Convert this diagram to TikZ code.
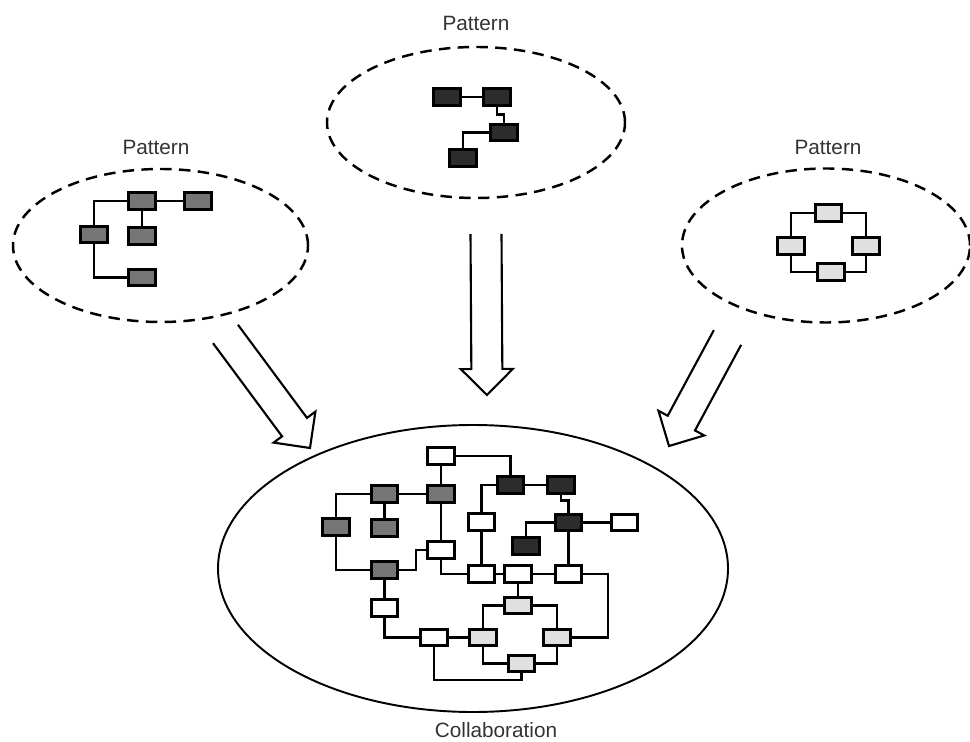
\documentclass[tikz,border=0pt]{standalone}
\usepackage{fontspec}
\setmainfont{Liberation Sans}
\usepackage{tikz}
\usetikzlibrary{shapes.geometric, calc}
\definecolor{unitmid}{HTML}{767676}
\definecolor{unitdark}{HTML}{2C2C2C}
\definecolor{unitlight}{HTML}{E0E0E0}
\definecolor{labelgray}{HTML}{333333}
\tikzset{
  wire/.style={line width=1.4pt},
  unit/.style={rectangle, draw, line width=1.5pt, minimum width=5.3mm,
    minimum height=3.3mm, inner sep=0pt},
  unitw/.style={unit, fill=white},
  unitm/.style={unit, fill=unitmid},
  unitd/.style={unit, fill=unitdark},
  unitl/.style={unit, fill=unitlight},
  patt/.style={% dashed outline round one pattern
    ellipse, draw, line width=1.4pt, dash pattern=on 6.5pt off 4.2pt, inner sep=0pt},
  collab/.style={ellipse, draw, line width=1.1pt, inner sep=0pt},
  hollow/.style={line width=1.2pt, line join=miter},
  lbl/.style={text=labelgray, font=\fontsize{11.8}{14}\selectfont, inner sep=0pt},
}
% open-tailed block arrow from #1 to #2
\newcommand\hollowarrow[2]{%
  \coordinate (hb) at ($(#2)!0.52cm!(#1)$);
  \draw[hollow] ($(#1)!0.31cm!90:(#2)$) -- ($(hb)!0.31cm!90:(#2)$)
    -- ($(hb)!0.52cm!90:(#2)$) -- (#2) -- ($(hb)!0.52cm!-90:(#2)$)
    -- ($(hb)!0.31cm!-90:(#2)$) -- ($(#1)!0.31cm!-90:(#2)$);
}

\begin{document}
\begin{tikzpicture}[x=0.2mm, y=-0.2mm]
  \useasboundingbox (0,0) rectangle (970,742);

  % ----- outlines and labels -------------------------------------------------
  \node[patt, minimum width=5.9cm, minimum height=3.06cm]  (lpat) at (160.5,245.5) {};
  \node[patt, minimum width=5.96cm, minimum height=3.02cm] (mpat) at (476,122.5) {};
  \node[patt, minimum width=5.76cm, minimum height=3.08cm] (rpat) at (826,245.5) {};
  \node[collab, minimum width=10.2cm, minimum height=5.74cm] (coll) at (473,568.5) {};

  \node[lbl] (llab) at (156,147) {Pattern};
  \node[lbl] (mlab) at (476,23)  {Pattern};
  \node[lbl] (rlab) at (828,147) {Pattern};
  \node[lbl] (clab) at (496,730) {Collaboration};

  % ----- left pattern --------------------------------------------------------
  \node[unitm] (a1) at (142,201)   {};
  \node[unitm] (a2) at (198,201)   {};
  \node[unitm] (a3) at (94,234.5)  {};
  \node[unitm] (a4) at (142,236)   {};
  \node[unitm] (a5) at (142,277.5) {};
  \draw[wire] (a1) -- (a2);
  \draw[wire] (a1) -- (a4);
  \draw[wire] (a1.west) -| (a3.north);
  \draw[wire] (a3.south) |- (a5.west);

  % ----- middle pattern ------------------------------------------------------
  \node[unitd] (b1) at (447,97)    {};
  \node[unitd] (b2) at (497,97)    {};
  \node[unitd] (b3) at (504,132.5) {};
  \node[unitd] (b4) at (463,158)   {};
  \draw[wire] (b1) -- (b2);
  \draw[wire] (b2.south) -- ++(0,8) -| (b3.north);
  \draw[wire] (b3.west) -| (b4.north);

  % ----- right pattern -------------------------------------------------------
  \node[unitl] (c1) at (828.5,213) {};
  \node[unitl] (c2) at (791,246)   {};
  \node[unitl] (c3) at (866,246)   {};
  \node[unitl] (c4) at (831,272)   {};
  \draw[wire] (c1.west) -| (c2.north);
  \draw[wire] (c1.east) -| (c3.north);
  \draw[wire] (c2.south) |- (c4.west);
  \draw[wire] (c4.east) -| (c3.south);

  % ----- block arrows --------------------------------------------------------
  \coordinate (lfrom) at (225.5,334);  \coordinate (lto) at (310,448);
  \coordinate (mfrom) at (486,234);    \coordinate (mto) at (487,395);
  \coordinate (rfrom) at (727.5,337.5);\coordinate (rto) at (669,446);
  \hollowarrow{lfrom}{lto}
  \hollowarrow{mfrom}{mto}
  \hollowarrow{rfrom}{rto}

  % ----- collaboration: units ------------------------------------------------
  \node[unitm] (g1) at (384.5,494) {};
  \node[unitm] (g2) at (441,494)   {};
  \node[unitm] (g3) at (336,527)   {};
  \node[unitm] (g4) at (384.5,528) {};
  \node[unitm] (g5) at (384.5,570) {};

  \node[unitd] (d1) at (510.5,485) {};
  \node[unitd] (d2) at (561,485)   {};
  \node[unitd] (d3) at (568.5,522.5) {};
  \node[unitd] (d4) at (526,546)   {};

  \node[unitw] (w1) at (441,456)   {};
  \node[unitw] (w2) at (481.5,522) {};
  \node[unitw] (w3) at (624.5,522.5) {};
  \node[unitw] (w4) at (441,550)   {};
  \node[unitw] (w5) at (481.5,574) {};
  \node[unitw] (w6) at (518,574)   {};
  \node[unitw] (w7) at (568.5,574) {};
  \node[unitw] (w8) at (384.5,608) {};
  \node[unitw] (w9) at (434,637.5) {};

  \node[unitl] (l1) at (518,605.5) {};
  \node[unitl] (l2) at (483,637.5) {};
  \node[unitl] (l3) at (557,637.5) {};
  \node[unitl] (l4) at (521.5,663.5) {};

  % ----- collaboration: wires ------------------------------------------------
  \draw[wire] (w1.east) -| (d1.north);
  \draw[wire] (w1) -- (g2);
  \draw[wire] (g1) -- (g2);
  \draw[wire] (g1.west) -| (g3.north);
  \draw[wire] (g1) -- (g4);
  \draw[wire] (g3.south) |- (g5.west);
  \draw[wire] (g5.east) -- ++(17,0) |- (w4.west);
  \draw[wire] (g2) -- (w4);
  \draw[wire] (w4.south) |- (w5.west);
  \draw[wire] (w5) -- (w6);
  \draw[wire] (w6) -- (w7);
  \draw[wire] (w2) -- (w5);
  \draw[wire] (d1.west) -| (w2.north);
  \draw[wire] (d1) -- (d2);
  \draw[wire] (d2.south) -- ++(0,6) -| (d3.north);
  \draw[wire] (d3.west) -| (d4.north);
  \draw[wire] (d3) -- (w3);
  \draw[wire] (d3) -- (w7);
  \draw[wire] (w7.east) -- ++(25,0) |- (l3.east);
  \draw[wire] (g5) -- (w8);
  \draw[wire] (w8.south) |- (w9.west);
  \draw[wire] (w9) -- (l2);
  \draw[wire] (w9.south) -- ++(0,33) -| (l4.south);
  \draw[wire] (w6) -- (l1);
  \draw[wire] (l2.north) |- (l1.west);
  \draw[wire] (l1.east) -| (l3.north);
  \draw[wire] (l2.south) |- (l4.west);
  \draw[wire] (l4.east) -| (l3.south);

\end{tikzpicture}
\end{document}
